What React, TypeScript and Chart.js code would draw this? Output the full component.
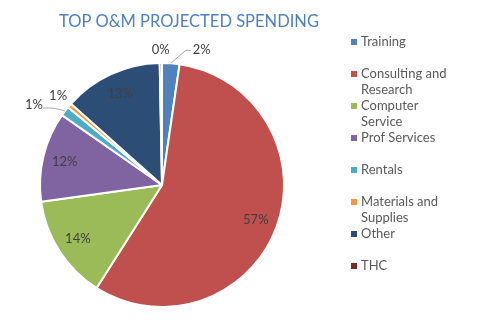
import React, { useEffect, useRef } from "react";
import { Chart, registerables } from "chart.js";

Chart.register(...registerables);

const TITLE = "TOP O&M PROJECTED SPENDING";
const categories = [
  "Training",
  "Consulting and Research",
  "Computer Service",
  "Prof Services",
  "Rentals",
  "Materials and Supplies",
  "Other",
  "THC",
];
const values = [2.3, 56.7, 13.8, 11.9, 1.3, 0.6, 13.1, 0.3];
const colors = [
  "#4F81BD",
  "#C0504D",
  "#9BBB59",
  "#8064A2",
  "#4BACC6",
  "#F79646",
  "#2C4D75",
  "#772C2A",
];

const FONT = "Lato, 'Open Sans', sans-serif";

const textPlugin = {
  id: "textPlugin",
  afterDraw(chart: any) {
    const ctx = chart.ctx as CanvasRenderingContext2D;
    const meta = chart.getDatasetMeta(0);
    const data = chart.data.datasets[0].data as number[];
    const total = data.reduce((a, b) => a + b, 0);
    ctx.save();
    // title
    ctx.fillStyle = "#4F81BD";
    ctx.font = `16.5px ${FONT}`;
    ctx.textAlign = "center";
    ctx.textBaseline = "middle";
    ctx.fillText(TITLE, 189, 22);

    // data labels
    ctx.font = `13px ${FONT}`;
    ctx.fillStyle = "#404040";
    meta.data.forEach((arc: any, i: number) => {
      const { x, y, startAngle, endAngle, outerRadius } = arc.getProps(
        ["x", "y", "startAngle", "endAngle", "outerRadius"],
        true
      );
      const mid = (startAngle + endAngle) / 2;
      const pct = Math.round((data[i] / total) * 100) + "%";
      const frac = data[i] / total;
      const px = (r: number) => x + Math.cos(mid) * r;
      const py = (r: number) => y + Math.sin(mid) * r;
      ctx.textBaseline = "middle";
      if (frac >= 0.05) {
        ctx.textAlign = "center";
        ctx.fillText(pct, px(outerRadius * 0.82), py(outerRadius * 0.82));
        return;
      }
      const isRight = Math.cos(mid) > 0.05;
      if (isRight) {
        const sx = px(outerRadius), sy = py(outerRadius);
        ctx.strokeStyle = "#A6A6A6";
        ctx.lineWidth = 1;
        ctx.beginPath();
        ctx.moveTo(sx, sy);
        ctx.lineTo(sx + 15, sy - 13);
        ctx.lineTo(sx + 20, sy - 13);
        ctx.stroke();
        ctx.textAlign = "left";
        ctx.fillText(pct, sx + 22, sy - 14);
      } else if (Math.abs(Math.cos(mid)) <= 0.05) {
        ctx.textAlign = "center";
        ctx.fillText(pct, px(outerRadius + 13), py(outerRadius + 13));
      } else if (frac < 0.01) {
        ctx.textAlign = "center";
        ctx.fillText(pct, px(outerRadius + 15), py(outerRadius + 15));
      } else {
        const sx = px(outerRadius), sy = py(outerRadius);
        ctx.strokeStyle = "#A6A6A6";
        ctx.lineWidth = 1;
        ctx.beginPath();
        ctx.moveTo(sx, sy);
        ctx.quadraticCurveTo(sx - 10, sy - 4, sx - 22, sy - 3);
        ctx.stroke();
        ctx.textAlign = "right";
        ctx.fillText(pct, sx - 22, sy - 6);
      }
    });

    // legend
    ctx.font = `13px ${FONT}`;
    ctx.textAlign = "left";
    ctx.textBaseline = "middle";
    const maxW = 90;
    categories.forEach((label, i) => {
      const y0 = 42 + 32 * i;
      ctx.fillStyle = colors[i];
      ctx.fillRect(351, y0 - 3, 6, 6);
      ctx.fillStyle = "#595959";
      const words = label.split(" ");
      const lines: string[] = [];
      let cur = "";
      words.forEach((w) => {
        const test = cur ? cur + " " + w : w;
        if (ctx.measureText(test).width > maxW && cur) {
          lines.push(cur);
          cur = w;
        } else cur = test;
      });
      if (cur) lines.push(cur);
      lines.forEach((ln, k) => ctx.fillText(ln, 361, y0 + 16 * k));
    });
    ctx.restore();
  },
};

export default function App() {
  const ref = useRef<HTMLCanvasElement>(null);
  useEffect(() => {
    const chart = new Chart(ref.current!, {
      type: "pie",
      data: {
        labels: categories,
        datasets: [
          {
            data: values,
            backgroundColor: colors,
            borderColor: "#FFFFFF",
            borderWidth: 2,
          },
        ],
      },
      options: {
        responsive: false,
        animation: false,
        radius: 122,
        layout: { padding: { left: 40, right: 193, top: 63, bottom: 20 } },
        plugins: {
          legend: { display: false },
          title: { display: false },
          tooltip: { enabled: false },
        },
      } as any,
      plugins: [textPlugin],
    });
    return () => chart.destroy();
  }, []);
  return (
    <div style={{ position: "fixed", left: 0, top: 0, width: 477, height: 327, background: "#fff" }}>
      <canvas ref={ref} width={477} height={327} style={{ width: 477, height: 327 }} />
    </div>
  );
}
